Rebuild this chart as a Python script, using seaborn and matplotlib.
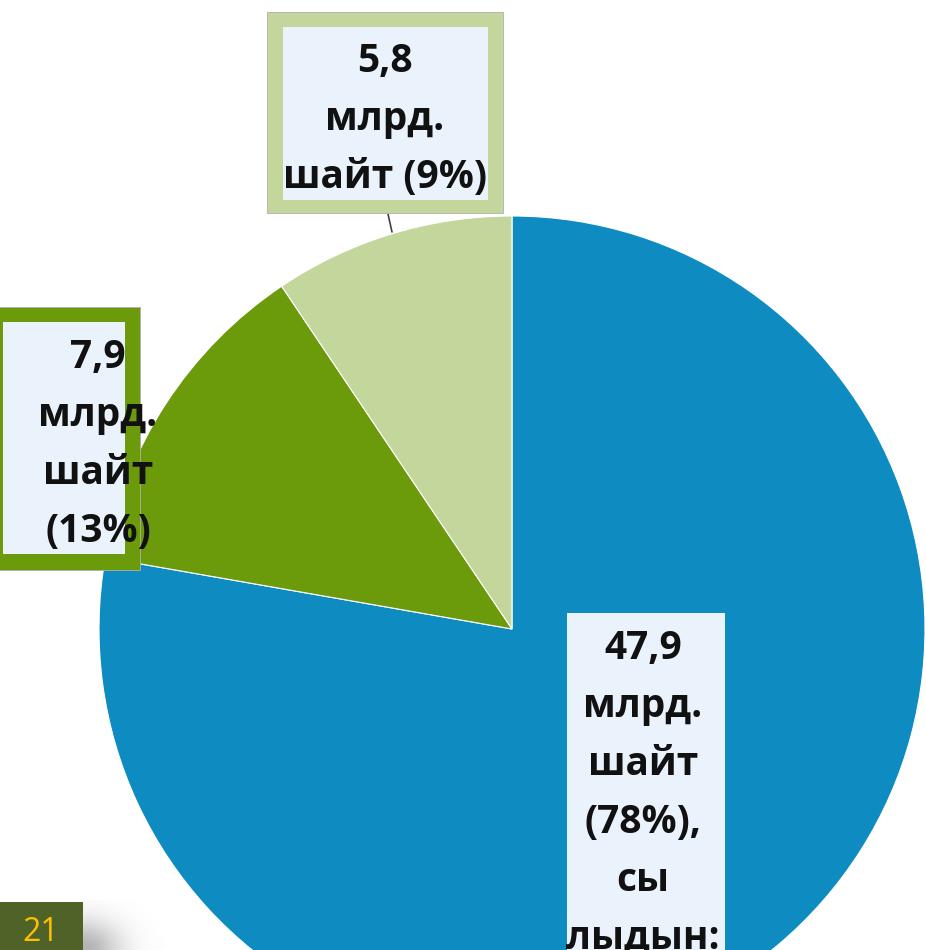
import numpy as np
import seaborn as sns
import matplotlib.pyplot as plt
from matplotlib.patches import Rectangle

# slice data (billion, share in %)
categories = ["blue", "dark_green", "light_green"]
values = [47.9, 7.9, 5.8]
percents = [78, 13, 9]
colors = ["#0E8CC1", "#6B9A0A", "#C3D69B"]
label_lines = [
    ["47,9", "млрд.", "шайт", "(78%),", "сы", "лыдын:"],
    ["7,9", "млрд.", "шайт", "(13%)"],
    ["5,8", "млрд.", "шайт (9%)"],
]
page_number = "21"

sns.set_theme(style="white")
plt.rcParams['font.family'] = ['Open Sans', 'DejaVu Sans']

W, H = 926, 950
fig = plt.figure(figsize=(W / 100, H / 100), dpi=100)
ax = fig.add_axes([0, 0, 1, 1])

def Y(y):
    # pixel row (from top) -> data y
    return H - y

ax.pie(values, colors=sns.color_palette(colors), startangle=90, counterclock=False,
       center=(512, Y(629)), radius=413,
       wedgeprops=dict(edgecolor="white", linewidth=0.8))
ax.set_xlim(0, W)
ax.set_ylim(0, H)
ax.set_aspect("equal")
ax.axis("off")

box_fill = "#EAF2FB"

# leader line from the 9% box to its slice
ax.plot([388, 392], [Y(214), Y(232)], color="#404040", lw=1.2, zorder=3)

# label boxes: (outer rect, inner rect, text centre x, first baseline)
boxes = [
    (None, (567, 613, 725, 970), 643, 659),
    ((-10, 307, 140, 570), (3, 322, 125, 554), 98, 368),
    ((267, 12, 503, 213), (283, 27, 488, 200), 385, 72),
]
for i, (outer, inner, cx, base) in enumerate(boxes):
    if outer is not None:
        x0, y0, x1, y1 = outer
        ax.add_patch(Rectangle((x0, Y(y1)), x1 - x0, y1 - y0, facecolor=colors[i],
                               edgecolor="#b0b0b0", lw=0.6, zorder=4))
    x0, y0, x1, y1 = inner
    ax.add_patch(Rectangle((x0, Y(y1)), x1 - x0, y1 - y0, facecolor=box_fill,
                           edgecolor="none", zorder=5))
    for k, line in enumerate(label_lines[i]):
        ax.text(cx, Y(base + 58 * k), line, ha="center", va="baseline",
                fontsize=28, fontweight="bold", color="#111111", zorder=6)

# page number tab with soft shadow
ax.add_patch(Rectangle((0, Y(950)), 83, 48, facecolor="#4F6228", edgecolor="none", zorder=7))
ax.text(41, Y(941), page_number, ha="center", va="baseline", fontsize=23,
        color="#FFC000", zorder=8)
gx, gy = np.meshgrid(np.linspace(0, 1, 120), np.linspace(0, 1, 60))
shadow = np.zeros((60, 120, 4))
shadow[..., :3] = 0.45
shadow[..., 3] = 0.55 * np.exp(-((gx - 0.0) ** 2 / 0.12 + (gy - 1.0) ** 2 / 0.35))
ax.imshow(shadow, extent=(83, 190, Y(950), Y(900)), origin="upper", zorder=6,
          interpolation="bilinear")
ax.set_xlim(0, W)
ax.set_ylim(0, H)

fig.savefig("out.png", dpi=100)
